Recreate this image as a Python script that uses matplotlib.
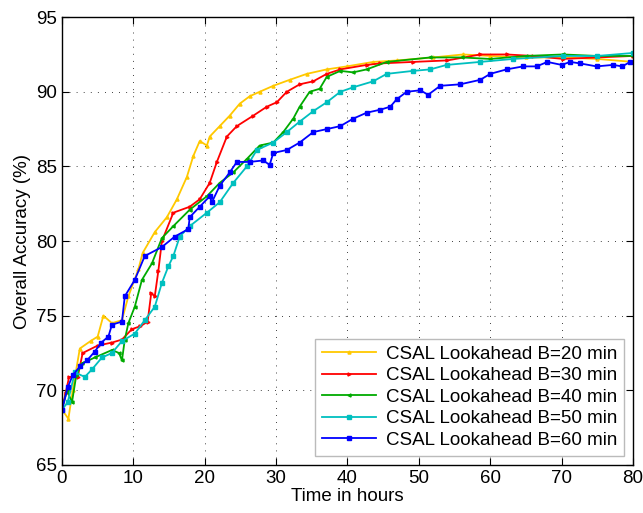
import matplotlib
matplotlib.use("Agg")
import matplotlib.pyplot as plt

plt.rcParams['font.family'] = ['Liberation Sans', 'DejaVu Sans']

# hours / accuracy, one pair of lists per curve
t20 = [0, 0.9, 1.5, 2.5, 4, 5, 5.8, 7, 8.4, 9.3, 10.7, 11.3, 13, 14.7, 16.1, 17.5, 18.4,
       19.3, 20.3, 20.7, 22.1, 23.5, 24.9, 26.3, 27.7, 29.6, 31.9, 34.3, 37.1, 39.9, 43.6,
       47, 52, 56.2, 60, 65, 70.2, 75, 80]
acc20 = [68.7, 68.1, 70.0, 72.8, 73.3, 73.6, 75.0, 74.5, 74.7, 76.3, 78.1, 79.2, 80.6, 81.6,
         82.8, 84.3, 85.7, 86.7, 86.4, 87.0, 87.7, 88.4, 89.2, 89.7, 90.0, 90.4, 90.8, 91.2,
         91.5, 91.7, 92.0, 92.1, 92.3, 92.5, 92.4, 92.3, 92.3, 92.2, 92.0]

t30 = [0, 0.5, 1, 2.2, 2.9, 5, 7, 8.4, 9.8, 11, 12, 12.5, 13, 13.5, 14, 15.6, 17.9, 19.3,
       20.7, 21.7, 23.1, 24.5, 26.8, 28.7, 30.1, 31.5, 33.3, 35.2, 37.1, 39, 42.7, 44.6,
       49.2, 54, 58.6, 62.3, 66, 70.2, 75, 80]
acc30 = [68.7, 69.8, 70.9, 70.9, 72.5, 73.0, 73.2, 73.4, 74.1, 74.3, 74.6, 76.5, 76.3, 78.0,
         80.0, 81.9, 82.3, 82.8, 83.9, 85.3, 87.0, 87.7, 88.4, 89.0, 89.3, 90.0, 90.5, 90.7,
         91.2, 91.5, 91.8, 91.9, 92.0, 92.1, 92.5, 92.5, 92.4, 92.2, 92.3, 92.4]

t40 = [0, 0.7, 1.4, 2, 2.8, 4.6, 7, 8, 8.4, 8.8, 9.3, 10.2, 11.2, 12.6, 14, 15.6, 17.9,
       20.3, 22.1, 24, 25.9, 27.7, 29.6, 31, 32.4, 33.3, 34.7, 36.1, 37.1, 39, 40.8, 42.7,
       45.5, 51.6, 56, 60, 65, 70.2, 75, 80]
acc40 = [68.7, 70.0, 69.2, 71.0, 71.8, 72.2, 72.7, 72.5, 72.0, 73.4, 74.5, 75.6, 77.4, 78.5,
         80.2, 81.0, 82.1, 83.0, 83.9, 84.6, 85.5, 86.4, 86.6, 87.3, 88.2, 89.0, 90.0, 90.2,
         91.0, 91.4, 91.3, 91.5, 92.0, 92.3, 92.3, 92.2, 92.4, 92.5, 92.4, 92.4]

t50 = [0, 0.8, 1.8, 3.2, 4.2, 5.6, 7, 8.4, 10.2, 11.6, 13, 14, 14.9, 15.6, 16.5, 17.9, 20.3,
       22.1, 24, 25.9, 27.3, 29.6, 31.5, 33.3, 35.2, 37.1, 39, 40.8, 43.6, 45.5, 49.2, 51.6,
       53.9, 58.6, 63.2, 70.2, 75, 80]
acc50 = [68.7, 69.2, 71.2, 70.9, 71.4, 72.2, 72.5, 73.3, 73.8, 74.7, 75.6, 77.2, 78.3, 79.0,
         80.3, 81.0, 81.9, 82.6, 83.9, 85.0, 86.1, 86.6, 87.3, 88.0, 88.7, 89.3, 90.0, 90.3,
         90.7, 91.2, 91.4, 91.5, 91.8, 92.0, 92.2, 92.4, 92.4, 92.6]

t60 = [0, 0.8, 1.5, 2.5, 3.5, 4.6, 5.5, 6.5, 7, 8.4, 8.8, 10.2, 11.6, 14, 15.8, 17.7, 17.9,
       19.3, 20.7, 21, 22.1, 23.5, 24.5, 26.3, 28.2, 29.1, 29.6, 31.5, 33.3, 35.2, 37.1, 39,
       40.8, 42.7, 44.6, 46, 46.9, 48.3, 50.2, 51.3, 53, 55.8, 58.6, 60, 62.3, 64.6, 66.5,
       68, 70, 71.2, 72.6, 74.9, 77.2, 78.5, 79.6]
acc60 = [68.7, 70.2, 71.0, 71.6, 72.0, 72.6, 73.2, 73.6, 74.4, 74.6, 76.3, 77.4, 79.0, 79.6,
         80.3, 80.8, 81.6, 82.3, 83.0, 82.6, 83.7, 84.6, 85.3, 85.3, 85.4, 85.1, 85.9, 86.1,
         86.6, 87.3, 87.5, 87.7, 88.2, 88.6, 88.8, 89.0, 89.5, 90.0, 90.1, 89.8, 90.4, 90.5,
         90.8, 91.2, 91.5, 91.7, 91.7, 92.0, 91.8, 92.0, 91.9, 91.7, 91.8, 91.7, 92.0]

series = [
    (t20, acc20, '#FFC800', '^', 'CSAL Lookahead B=20 min'),
    (t30, acc30, '#FF0000', '>', 'CSAL Lookahead B=30 min'),
    (t40, acc40, '#00AA00', '<', 'CSAL Lookahead B=40 min'),
    (t50, acc50, '#00BFBF', 's', 'CSAL Lookahead B=50 min'),
    (t60, acc60, '#0000FF', 's', 'CSAL Lookahead B=60 min'),
]

fig = plt.figure(figsize=(6.43, 5.13), dpi=100)
ax = fig.add_axes([0.0964, 0.0936, 0.888, 0.873])

for t, acc, col, mk, lab in series:
    ax.plot(t, acc, color=col, lw=1.3, marker=mk, ms=2.2, mec=col, mfc=col, label=lab)

ax.set_xlim(0, 80)
ax.set_ylim(65, 95)
ax.set_xticks(range(0, 81, 10))
ax.set_yticks(range(65, 96, 5))
ax.grid(True, color='k', lw=0.6, linestyle=(0, (1, 7.5)))
ax.tick_params(direction='in', top=True, right=True, labelsize=13.5, length=5, width=0.8)
for s in ax.spines.values():
    s.set_linewidth(1.0)

ax.set_xlabel('Time in hours', fontsize=13.5, labelpad=1)
ax.set_ylabel('Overall Accuracy (%)', fontsize=13.5, labelpad=4)

leg = ax.legend(loc='lower right', fontsize=13.5, numpoints=1, fancybox=False,
                handlelength=2.9, handletextpad=0.5, labelspacing=0.24,
                borderaxespad=0.5, borderpad=0.35, framealpha=1)
leg.get_frame().set_edgecolor('#BBBBBB')
leg.get_frame().set_linewidth(1.0)

fig.savefig('out.png', dpi=100)
